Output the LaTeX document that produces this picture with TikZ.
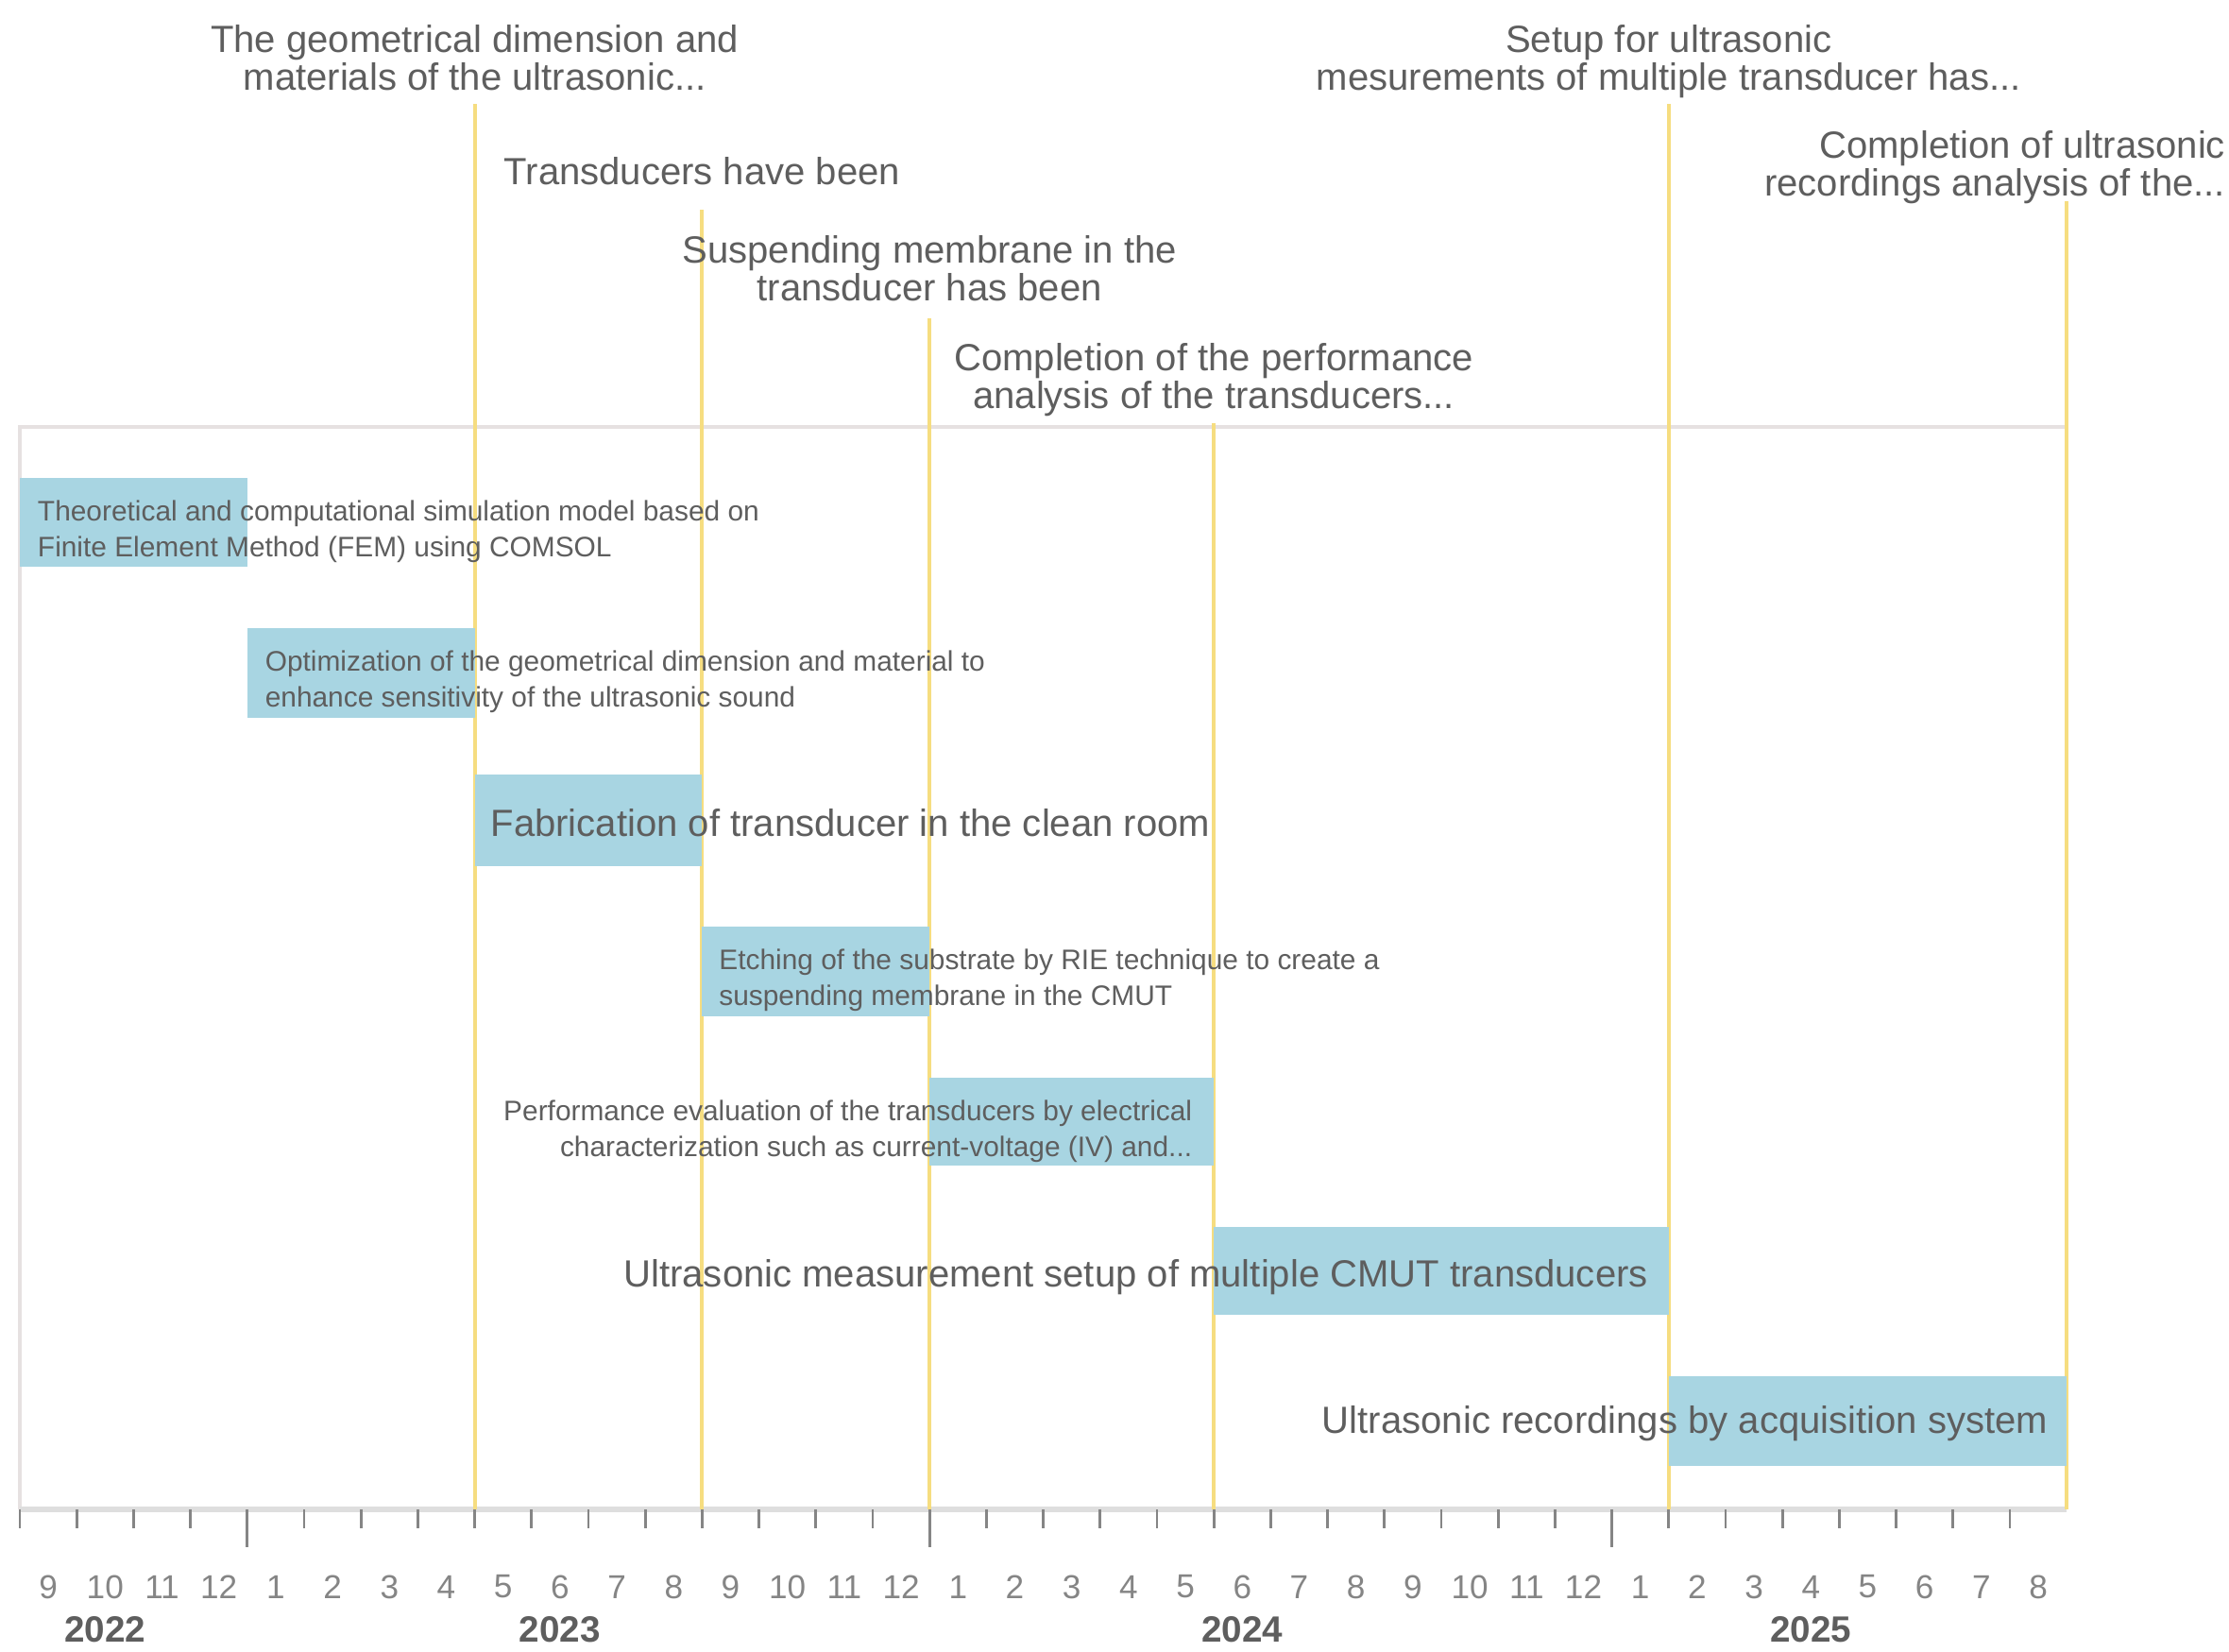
\documentclass[tikz,border=0pt]{standalone}
\usepackage{fontspec}
\setmainfont{Liberation Sans}
\usetikzlibrary{positioning, fit}
\definecolor{barblue}{HTML}{A8D5E2}
\definecolor{msyellow}{HTML}{F6DD80}
\definecolor{txtgray}{HTML}{5E5E5E}
\definecolor{tickgray}{HTML}{858585}
\definecolor{framegray}{HTML}{E6E1E1}
\definecolor{axisgray}{HTML}{DEDEDE}

\begin{document}
\begin{tikzpicture}[x=6.02mm, y=-1mm,
  bar/.style={fill=barblue, inner sep=0pt},
  smalltxt/.style={text=txtgray, font=\fontsize{8.5}{10.8}\selectfont, inner sep=0pt},
  bigtxt/.style={text=txtgray, font=\fontsize{11.4}{13.5}\selectfont, inner sep=0pt},
  mlabel/.style={text=txtgray, font=\fontsize{11.4}{10.6}\selectfont, align=center, inner sep=0pt},
  mline/.style={msyellow, line width=1.1pt},
  tick/.style={tickgray, line width=0.8pt},
  monthlbl/.style={text=tickgray, font=\fontsize{10}{12}\selectfont},
  yearlbl/.style={text=txtgray, font=\fontsize{11}{13}\selectfont\bfseries}]

% Canvas
\useasboundingbox (-0.3488,0) rectangle (38.854,174.9);
\fill[white] (-0.3488,0) rectangle (38.854,174.9);

% Frame and axis
\coordinate (ax) at (0,159.8);
\draw[framegray, line width=0.9pt] (ax) -- (0,45.2) -- (36,45.2);
\draw[axisgray, line width=1.5pt] (ax) -- (36,159.8);

% Ticks
\foreach \k in {0,...,35}
  \draw[tick] (\k,159.8) -- (\k,161.8);
\foreach \k in {4,16,28}
  \draw[tick] (\k,159.8) -- (\k,163.8);

% Months
\foreach \k in {0,...,35} {
  \pgfmathtruncatemacro{\mon}{mod(\k+8,12)+1}
  \node[monthlbl] (mon\k) at (\k+0.5,168.0) {\mon};
}

% Years
\node[yearlbl] (y2022) at (1.5,172.5) {2022};
\node[yearlbl] (y2023) at (9.5,172.5) {2023};
\node[yearlbl] (y2024) at (21.5,172.5) {2024};
\node[yearlbl] (y2025) at (31.5,172.5) {2025};

% Milestones
\coordinate (s1) at (8,11.0);
\coordinate (s2) at (12,22.2);
\coordinate (s3) at (16,33.7);
\coordinate (s4) at (21,44.8);
\coordinate (s5) at (29,11.0);
\coordinate (s6) at (36,21.3);
\foreach \s in {s1,s2,s3,s4,s5,s6}
  \draw[mline] (\s) -- (\s |- ax);

\node[mlabel, anchor=south] (m1) at (8,9.7) {The geometrical dimension and\\materials of the ultrasonic...};
\node[mlabel, anchor=south] (m2) at (12,19.7) {Transducers have been};
\node[mlabel, anchor=south] (m3) at (16,32.0) {Suspending membrane in the\\transducer has been};
\node[mlabel, anchor=south] (m4) at (21,44.2) {Completion of the performance\\analysis of the transducers...};
\node[mlabel, anchor=south] (m5) at (29,10.5) {Setup for ultrasonic\\mesurements of multiple transducer has...};
\node[mlabel, anchor=south east, align=right] (m6) at (38.8,21.7) {Completion of ultrasonic\\recordings analysis of the...};

% Tasks
\node[bar, fit={(0,50.6) (4,60.0)}] (b1) {};
\node[smalltxt, align=left, right=1.9mm of b1.west, yshift=-1.0mm] (t1) {Theoretical and computational simulation model based on\\Finite Element Method (FEM) using COMSOL};

\node[bar, fit={(4,66.5) (8,76.0)}] (b2) {};
\node[smalltxt, align=left, right=1.9mm of b2.west, yshift=-0.9mm] (t2) {Optimization of the geometrical dimension and material to\\enhance sensitivity of the ultrasonic sound};

\node[bar, fit={(8,82.0) (12,91.7)}] (b3) {};
\node[bigtxt, right=1.7mm of b3.west, yshift=-0.3mm] (t3) {Fabrication of transducer in the clean room};

\node[bar, fit={(12,98.1) (16,107.6)}] (b4) {};
\node[smalltxt, align=left, right=1.8mm of b4.west, yshift=-0.9mm] (t4) {Etching of the substrate by RIE technique to create a\\suspending membrane in the CMUT};

\node[bar, fit={(16,114.1) (21,123.4)}] (b5) {};
\node[smalltxt, align=right, left=2.3mm of b5.east, yshift=-1.0mm] (t5) {Performance evaluation of the transducers by electrical\\characterization such as current-voltage (IV) and...};

\node[bar, fit={(21,129.9) (29,139.2)}] (b6) {};
\node[bigtxt, left=2.2mm of b6.east, yshift=-0.7mm] (t6) {Ultrasonic measurement setup of multiple CMUT transducers};

\node[bar, fit={(29,145.7) (36,155.2)}] (b7) {};
\node[bigtxt, left=2.0mm of b7.east, yshift=-0.3mm] (t7) {Ultrasonic recordings by acquisition system};

\end{tikzpicture}
\end{document}
